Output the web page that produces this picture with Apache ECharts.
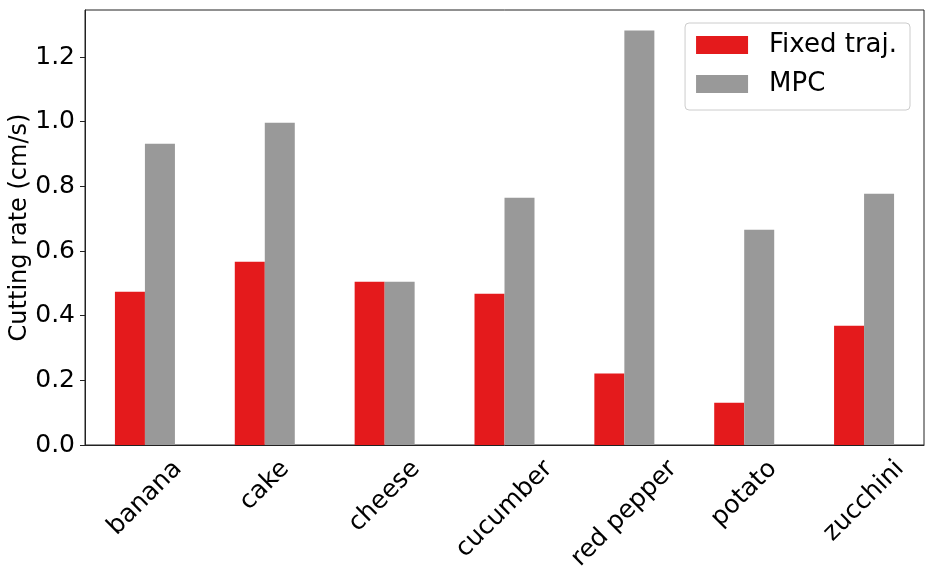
<!DOCTYPE html>
<html><head><meta charset="utf-8">
<script src="https://cdn.jsdelivr.net/npm/echarts@6/dist/echarts.min.js"></script>
<style>html,body{margin:0;padding:0;background:#fff}#c{width:933px;height:579px}</style>
</head><body><div id="c"></div>
<script>
const categories = ['banana', 'cake', 'cheese', 'cucumber', 'red pepper', 'potato', 'zucchini'];
const fixedTraj = [0.474, 0.567, 0.505, 0.468, 0.221, 0.131, 0.369];
const mpc = [0.932, 0.997, 0.505, 0.765, 1.282, 0.666, 0.777];
const yTicks = [0, 0.2, 0.4, 0.6, 0.8, 1.0, 1.2];
const seriesNames = ['Fixed traj.', 'MPC'];
const yName = 'Cutting rate (cm/s)';

const FONT = 'DejaVu Sans';
const FS = 25;
const ctx = document.createElement('canvas').getContext('2d');
ctx.font = FS + 'px "' + FONT + '"';

const chart = echarts.init(document.getElementById('c'), null, { renderer: 'canvas' });
chart.setOption({
  animation: false,
  textStyle: { fontFamily: FONT },
  grid: { left: 85, top: 10, width: 839, height: 435, show: true, borderColor: '#222', borderWidth: 1,
    containLabel: false, outerBoundsMode: 'none' },
  legend: {
    orient: 'vertical', right: 23, top: 23, align: 'left',
    itemWidth: 52, itemHeight: 18, itemGap: 9, icon: 'rect',
    padding: [7, 13, 11, 11],
    borderColor: '#cccccc', borderWidth: 1, borderRadius: 4, backgroundColor: '#fff',
    textStyle: { fontSize: 26, color: '#000', fontFamily: FONT, lineHeight: 30, padding: [0, 0, 0, 16] },
    data: seriesNames
  },
  xAxis: {
    type: 'category', data: categories, boundaryGap: true,
    axisLine: { lineStyle: { color: '#222', width: 1 } },
    axisTick: { alignWithLabel: true, length: 5, lineStyle: { color: '#222' } },
    axisLabel: { show: false },
    splitLine: { show: false }
  },
  yAxis: {
    type: 'value', min: 0, max: 1.3455, interval: 0.2,
    name: yName, nameLocation: 'middle', nameGap: 53, nameMoveOverlap: false,
    nameTextStyle: { fontSize: 24, color: '#000', fontFamily: FONT },
    axisLine: { show: true, lineStyle: { color: '#222', width: 1 } },
    axisTick: { show: true, length: 5, lineStyle: { color: '#222' }, customValues: yTicks },
    axisLabel: { fontSize: FS, color: '#000', margin: 10, fontFamily: FONT, customValues: yTicks,
      formatter: function (v) { return v.toFixed(1); } },
    splitLine: { show: false }
  },
  series: [
    { name: seriesNames[0], type: 'bar', data: fixedTraj, barWidth: 30, barGap: '0%',
      itemStyle: { color: '#e41a1c' } },
    { name: seriesNames[1], type: 'bar', data: mpc, barWidth: 30, barGap: '0%',
      itemStyle: { color: '#999999' } },
    {
      // category tick labels, rotated 45° and centred under each tick (matplotlib style)
      type: 'custom', name: 'xlabels', clip: false, silent: true, z: 5,
      data: categories.map(function (c) { return [c, 0]; }),
      encode: { x: 0, y: 1 },
      renderItem: function (params, api) {
        const i = params.dataIndex;
        const p = api.coord([api.value(0), 0]);
        const text = categories[i];
        const L = ctx.measureText(text).width;
        return {
          type: 'text', x: p[0] + 0.3536 * L, y: p[1] + 20, rotation: Math.PI / 4,
          style: { text: text, fill: '#000', font: FS + 'px "' + FONT + '"', align: 'right', verticalAlign: 'middle' }
        };
      }
    }
  ]
});
</script></body></html>
